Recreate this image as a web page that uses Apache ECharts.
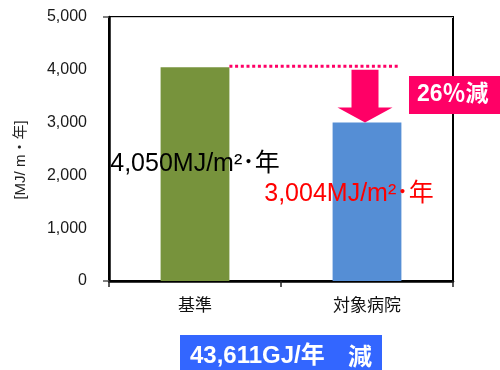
<!DOCTYPE html>
<html>
<head>
<meta charset="utf-8">
<script src="https://cdn.jsdelivr.net/npm/echarts@6/dist/echarts.min.js"></script>
<style>
  html, body { margin: 0; padding: 0; background: #fff; }
  #chart { width: 500px; height: 370px; }
</style>
</head>
<body>
<div id="chart"></div>
<script>
// Energy use intensity: reference value vs. the target hospital
const categories = ['基準', '対象病院'];
const intensity = [4050, 3004];          // MJ/m²・年
const barColors = ['#77933c', '#558ed5'];
const labelColors = ['#000000', '#ff0000'];
const yAxisMin = 0;
const yAxisMax = 5000;
const yAxisStep = 1000;
const arrowFrom = 4000;                  // where the reduction arrow starts
const annualReduction = '43,611GJ/年';
const unitText = 'MJ/m²･年';
const axisTitle = '[MJ/ m・年]';

const LATIN = "'Liberation Sans','Noto Sans CJK JP'";
const CJK = "'Noto Sans CJK JP','Liberation Sans'";
const PINK = '#ff0066';

const chart = echarts.init(document.getElementById('chart'), null, { renderer: 'canvas' });

const labelOffsets = [[0, -10], [-18, -8]];

chart.setOption({
  animation: false,
  grid: {
    left: 109, right: 47, top: 17, bottom: 89,
    show: true, borderColor: '#000', borderWidth: 2, backgroundColor: 'transparent'
  },
  xAxis: {
    type: 'category',
    data: categories,
    axisLine: { show: true, lineStyle: { color: '#000', width: 2.5 } },
    axisTick: { show: true, length: 6, lineStyle: { color: '#222', width: 1.5 } },
    axisLabel: { color: '#111', fontSize: 17, fontFamily: CJK, margin: 15, lineHeight: 17 }
  },
  yAxis: {
    type: 'value',
    min: yAxisMin, max: yAxisMax, interval: yAxisStep,
    axisLine: { show: true, lineStyle: { color: '#000', width: 2.5 } },
    axisTick: {
      show: true, length: 6, customValues: [yAxisMin, yAxisMax],
      lineStyle: { color: '#555', width: 1.5 }
    },
    splitLine: { show: true, lineStyle: { color: '#cccccc', width: 1 } },
    axisLabel: {
      color: '#1a1a1a', fontSize: 16, fontFamily: LATIN, margin: 22,
      formatter: v => v.toLocaleString('en-US')
    }
  },
  series: [{
    type: 'bar',
    barWidth: '40%',
    data: intensity.map((v, i) => ({
      value: v,
      itemStyle: { color: barColors[i] },
      label: {
        show: true,
        position: 'inside',
        offset: labelOffsets[i],
        color: labelColors[i],
        fontSize: 25,
        fontFamily: LATIN,
        formatter: p => p.value.toLocaleString('en-US') + unitText
      }
    }))
  }]
});

// Annotations placed through the chart's own coordinate system
const p0 = chart.convertToPixel({ gridIndex: 0 }, [0, intensity[0]]);
const p1 = chart.convertToPixel({ gridIndex: 0 }, [1, intensity[1]]);
const band = p1[0] - p0[0];
const yTop = chart.convertToPixel({ gridIndex: 0 }, [1, arrowFrom])[1];
const cx = p1[0] - 2;
const shaftHalf = 13.5, headHalf = 27.5, headLen = 15;
const pct = Math.round((1 - intensity[1] / intensity[0]) * 100);

chart.setOption({
  graphic: [
    {
      type: 'line',
      shape: { x1: p0[0] + band * 0.2, y1: p0[1] - 1, x2: p1[0] + band * 0.19, y2: p0[1] - 1 },
      style: { stroke: PINK, lineWidth: 3, lineDash: [3, 2.7] },
      z: 10
    },
    {
      type: 'polygon',
      shape: {
        points: [
          [cx - shaftHalf, yTop], [cx + shaftHalf, yTop],
          [cx + shaftHalf, p1[1] - headLen], [cx + headHalf, p1[1] - headLen],
          [cx, p1[1]],
          [cx - headHalf, p1[1] - headLen], [cx - shaftHalf, p1[1] - headLen]
        ]
      },
      style: { fill: PINK },
      z: 10
    },
    {
      type: 'rect',
      shape: { x: 409, y: 76, width: 100, height: 38 },
      style: { fill: PINK },
      z: 11
    },
    {
      type: 'text',
      x: 417, y: 95,
      style: {
        text: pct + '％減', fill: '#fff', fontSize: 23, fontWeight: 'bold',
        fontFamily: LATIN, verticalAlign: 'middle', align: 'left'
      },
      z: 12
    },
    {
      type: 'text',
      x: 21, y: 160, rotation: Math.PI / 2,
      style: {
        text: axisTitle, fill: '#222', fontSize: 15, fontFamily: LATIN,
        align: 'center', verticalAlign: 'middle'
      }
    },
    {
      type: 'rect',
      shape: { x: 180, y: 335, width: 202, height: 40 },
      style: { fill: '#3366ff' }
    },
    {
      type: 'text',
      x: 190, y: 356,
      style: {
        text: annualReduction, fill: '#fff', fontSize: 24, fontWeight: 'bold',
        fontFamily: LATIN, verticalAlign: 'middle', align: 'left'
      }
    },
    {
      type: 'text',
      x: 348, y: 356,
      style: {
        text: '減', fill: '#fff', fontSize: 24, fontWeight: 'bold',
        fontFamily: CJK, verticalAlign: 'middle', align: 'left'
      }
    }
  ]
});
</script>
</body>
</html>
